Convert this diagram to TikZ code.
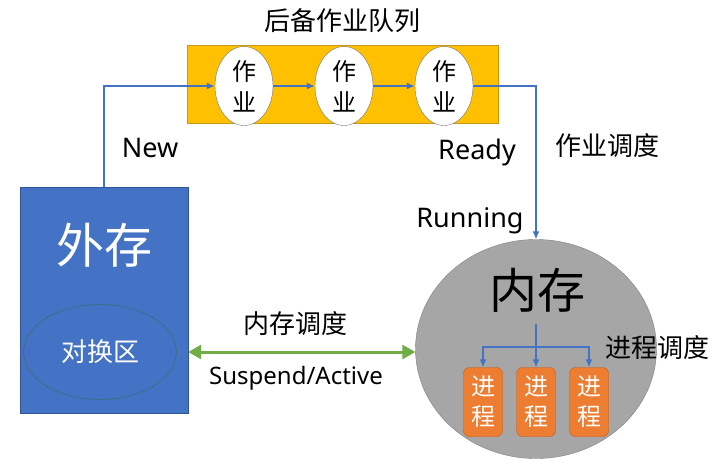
\documentclass[tikz,border=0pt]{standalone}
\usepackage{fontspec}
\setmainfont{Noto Sans}
\newfontfamily\cjk{Noto Sans CJK SC}
\usetikzlibrary{arrows.meta,positioning,shapes.geometric}
\definecolor{queueorange}{HTML}{FFC000}
\definecolor{queueedge}{HTML}{C9971A}
\definecolor{diskblue}{HTML}{4472C4}
\definecolor{diskedge}{HTML}{2F5597}
\definecolor{swapedge}{HTML}{3E6E86}
\definecolor{flowblue}{HTML}{4472C4}
\definecolor{memgray}{HTML}{A6A6A6}
\definecolor{procorange}{HTML}{ED7D31}
\definecolor{procedge}{HTML}{C55A11}
\definecolor{swapgreen}{HTML}{70AD47}

\begin{document}
\begin{tikzpicture}[x=1pt,y=-1pt,>={Latex[length=8pt,width=7pt]},
  flow/.style={draw=flowblue,line width=1.4pt},
  job/.style={ellipse,draw=black!55,fill=white,minimum width=58pt,minimum height=79pt,
    inner sep=0pt,align=center,font=\cjk\fontsize{24}{31}\selectfont},
  proc/.style={rectangle,rounded corners=6pt,draw=procedge,fill=procorange,text=white,
    minimum width=39pt,minimum height=69pt,inner sep=0pt,align=center,
    font=\cjk\fontsize{24}{30}\selectfont},
  label/.style={font=\fontsize{27}{30}\selectfont},
  cjklabel/.style={font=\cjk\fontsize{26}{30}\selectfont}]
  \useasboundingbox (0,0) rectangle (714,469);

  % job queue
  \node[draw=queueedge,fill=queueorange,minimum width=311pt,minimum height=78pt] (queue) at (343,84) {};
  \node[cjklabel] (queuetitle) at (342,21) {后备作业队列};
  \node[job] (job1) at (244,86) {作\\业};
  \node[job] (job2) at (344,86) {作\\业};
  \node[job] (job3) at (444,86) {作\\业};

  % external storage
  \node[draw=diskedge,fill=diskblue,minimum width=168pt,minimum height=226pt] (disk) at (104,300) {};
  \node[text=white,font=\cjk\fontsize{48}{52}\selectfont] (disktitle) at (104,245) {外存};
  \node[ellipse,draw=swapedge,line width=0.8pt,minimum width=153pt,minimum height=95pt] (swap) at (100,352) {};
  \node[cjklabel,text=white] (swaptext) at (100,352) {对换区};

  % main memory
  \node[ellipse,draw=black!50,fill=memgray,minimum width=241pt,minimum height=219pt] (mem) at (536,349) {};
  \node[font=\cjk\fontsize{48}{52}\selectfont] (memtitle) at (537,290) {内存};
  \node[proc] (proc1) at (483,402) {进\\程};
  \node[proc] (proc2) at (536,402) {进\\程};
  \node[proc] (proc3) at (589,402) {进\\程};
  \coordinate (split) at (536,324);
  \coordinate (bar) at (536,347);

  % job flow
  \coordinate (newcorner) at (104,86);
  \coordinate (readycorner) at (536,86);
  \draw[flow,->] (disk.north) -- (newcorner) -- (job1.west);
  \draw[flow,->] (job1.east) -- (job2.west);
  \draw[flow,->] (job2.east) -- (job3.west);
  \draw[flow,->] (job3.east) -- (readycorner) -- (mem.north);
  \node[label] (new) at (150,148) {New};
  \node[label] (ready) at (477,152) {Ready};
  \node[label] (running) at (470,221) {Running};
  \node[cjklabel] (jobsched) at (607,146) {作业调度};

  % process scheduling
  \draw[flow] (split) -- (bar);
  \draw[flow,->] (bar) -| (proc1.north);
  \draw[flow,->] (bar) -- (proc2.north);
  \draw[flow,->] (bar) -| (proc3.north);
  \node[cjklabel] (procsched) at (657,348) {进程调度};

  % swapping
  \draw[draw=swapgreen,line width=3pt,{Triangle[length=13pt,width=14pt]}-{Triangle[length=13pt,width=14pt]}]
    (disk.east |- swap) -- (mem.west |- swap);
  \node[cjklabel] (memsched) at (295,324) {内存调度};
  \node[label,font=\fontsize{24}{28}\selectfont] (suspend) at (296,378) {Suspend/Active};
\end{tikzpicture}
\end{document}
